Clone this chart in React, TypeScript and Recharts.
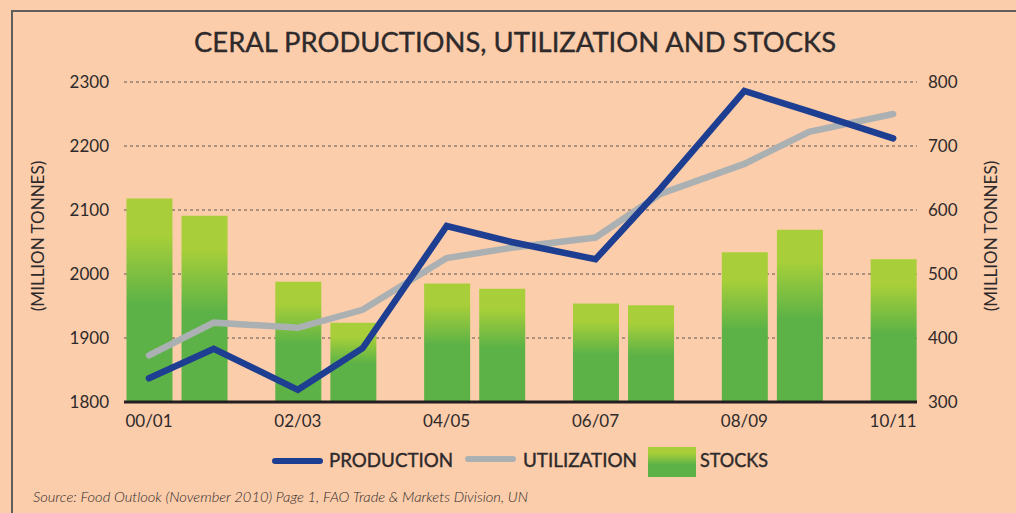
import React from 'react';
import { ComposedChart, Bar, Line, XAxis, YAxis, CartesianGrid } from 'recharts';

const seasons = ['00/01', '01/02', '02/03', '03/04', '04/05', '05/06', '06/07', '07/08', '08/09', '09/10', '10/11'];
const production = [1837, 1883, 1819, 1884, 2075, 2050, 2023, 2133, 2286, 2254, 2212];
const utilization = [1873, 1924, 1916, 1944, 2025, 2041, 2057, 2125, 2172, 2222, 2250];
const stocks = [618, 591, 488, 424, 485, 477, 454, 451, 534, 569, 523];
const leftTicks = [1800, 1900, 2000, 2100, 2200, 2300];
const rightTicks = [300, 400, 500, 600, 700, 800];
const labelTicks = [0, 2, 4, 6, 8, 10];

const TITLE = 'CERAL PRODUCTIONS, UTILIZATION AND STOCKS';
const SOURCE = 'Source: Food Outlook (November 2010) Page 1, FAO Trade & Markets Division, UN';
const AXIS_TITLE = '(MILLION TONNES)';

const BG = '#FCCDAA';
const BLUE = '#1E3E92';
const GRAY = '#ABB0B2';
const LIME = '#A8CF39';
const GREEN = '#5CB247';
const TEXT = '#2E2A2B';
const FONT = 'Lato, "Open Sans", sans-serif';
const X_DOMAIN: [number, number] = [-0.336, 10.32];

// seasons are drawn in pairs; the second of each pair sits closer to the first
const data = seasons.map((s, i) => ({
  season: s,
  pos: Math.floor(i / 2) * 2 + (i % 2) * 0.74,
  linePos: Math.floor(i / 2) * 2 + (i % 2) * 0.87,
  production: production[i],
  utilization: utilization[i],
  stocks: stocks[i],
}));

const tickLabel = (v: number) => seasons[Math.round(v)] ?? '';

const LeftTitle = (props: any) => {
  const vb = props.viewBox || {};
  const cx = 37;
  const cy = vb.y + vb.height / 2 - 6;
  return (
    <text x={cx} y={cy} transform={`rotate(-90 ${cx} ${cy})`} textAnchor="middle" dominantBaseline="central"
      fontFamily={FONT} fontSize={17} fill={TEXT}>{AXIS_TITLE}</text>
  );
};
const RightTitle = (props: any) => {
  const vb = props.viewBox || {};
  const cx = 990;
  const cy = vb.y + vb.height / 2 - 6;
  return (
    <text x={cx} y={cy} transform={`rotate(-90 ${cx} ${cy})`} textAnchor="middle" dominantBaseline="central"
      fontFamily={FONT} fontSize={17} fill={TEXT}>{AXIS_TITLE}</text>
  );
};

export default function App() {
  return (
    <div style={{ position: 'absolute', left: 0, top: 0, width: 1016, height: 513, background: BG, overflow: 'hidden' }}>
      <svg width={1016} height={513} style={{ position: 'absolute', left: 0, top: 0 }}>
        <defs>
          <linearGradient id="legendGrad" x1="0" y1="0" x2="0" y2="1">
            <stop offset="0" stopColor={LIME} />
            <stop offset="0.2" stopColor={LIME} />
            <stop offset="0.6" stopColor={GREEN} />
            <stop offset="1" stopColor={GREEN} />
          </linearGradient>
        </defs>
        <polyline points="12,513 12,11 1016,11" fill="none" stroke="#5E5E5E" strokeWidth={2} />
        <text x={515} y={52} textAnchor="middle" fontFamily={FONT} fontSize={26} fill={TEXT}
          stroke={TEXT} strokeWidth={0.35}
          textLength={642} lengthAdjust="spacingAndGlyphs">{TITLE}</text>
        <line x1={275} y1={461} x2={320} y2={461} stroke={BLUE} strokeWidth={6} strokeLinecap="round" />
        <text x={329} y={467} fontFamily={FONT} fontSize={18.5} fill={TEXT} stroke={TEXT} strokeWidth={0.4}
          textLength={124} lengthAdjust="spacingAndGlyphs">PRODUCTION</text>
        <line x1={468} y1={459} x2={513} y2={459} stroke={GRAY} strokeWidth={6} strokeLinecap="round" />
        <text x={523} y={467} fontFamily={FONT} fontSize={18.5} fill={TEXT} stroke={TEXT} strokeWidth={0.4}
          textLength={114} lengthAdjust="spacingAndGlyphs">UTILIZATION</text>
        <rect x={648} y={447} width={48} height={30} fill="url(#legendGrad)" />
        <text x={700} y={467} fontFamily={FONT} fontSize={18.5} fill={TEXT} stroke={TEXT} strokeWidth={0.4}
          textLength={68} lengthAdjust="spacingAndGlyphs">STOCKS</text>
        <text x={33} y={502} fontFamily={FONT} fontStyle="italic" fontWeight={300} fontSize={14} fill={TEXT}
          textLength={495} lengthAdjust="spacingAndGlyphs">{SOURCE}</text>
      </svg>
      <div style={{ position: 'absolute', left: 0, top: 0 }}>
        <ComposedChart width={1016} height={513} data={data}
          margin={{ top: 82, right: 39, bottom: 81, left: 14 }}>
          <defs>
            <linearGradient id="stockGrad" x1="0" y1="0" x2="0" y2="1">
              <stop offset="0" stopColor={LIME} />
              <stop offset="0.18" stopColor={LIME} />
              <stop offset="0.52" stopColor={GREEN} />
              <stop offset="1" stopColor={GREEN} />
            </linearGradient>
          </defs>
          <CartesianGrid yAxisId="left" vertical={false} stroke="#5A5450" strokeDasharray="3 3" strokeWidth={1} />
          <XAxis dataKey="pos" type="number" domain={X_DOMAIN} allowDataOverflow ticks={labelTicks}
            tickFormatter={tickLabel} interval={0} height={30}
            axisLine={{ stroke: '#231F20', strokeWidth: 3 }} tickLine={false} tickSize={6} tickMargin={7}
            tick={{ fill: TEXT, fontSize: 17, fontFamily: FONT }} />
          <XAxis xAxisId="line" dataKey="linePos" type="number" domain={X_DOMAIN} allowDataOverflow hide />
          <YAxis yAxisId="left" orientation="left" domain={[1800, 2300]} ticks={leftTicks} width={110}
            axisLine={false} tickLine={false} tickSize={8} tickMargin={7}
            tick={{ fill: TEXT, fontSize: 17, fontFamily: FONT }}
            label={{ content: <LeftTitle /> }} />
          <YAxis yAxisId="right" orientation="right" domain={[300, 800]} ticks={rightTicks} width={60}
            axisLine={false} tickLine={false} tickSize={5} tickMargin={6}
            tick={{ fill: TEXT, fontSize: 17, fontFamily: FONT, textAnchor: 'start' }}
            label={{ content: <RightTitle /> }} />
          <Bar yAxisId="right" dataKey="stocks" name="STOCKS" barSize={46} fill="url(#stockGrad)" isAnimationActive={false} />
          <Line xAxisId="line" yAxisId="left" dataKey="utilization" name="UTILIZATION" type="linear" stroke={GRAY} strokeWidth={6.5}
            strokeLinecap="round" strokeLinejoin="miter" dot={false} activeDot={false} isAnimationActive={false} />
          <Line xAxisId="line" yAxisId="left" dataKey="production" name="PRODUCTION" type="linear" stroke={BLUE} strokeWidth={6.5}
            strokeLinecap="round" strokeLinejoin="miter" dot={false} activeDot={false} isAnimationActive={false} />
        </ComposedChart>
      </div>
    </div>
  );
}
